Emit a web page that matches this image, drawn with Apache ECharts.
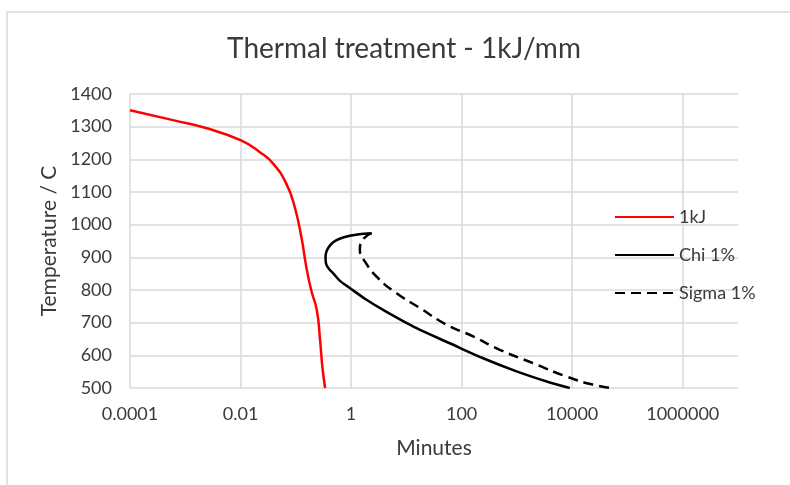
<!DOCTYPE html>
<html>
<head>
<meta charset="utf-8">
<script src="https://cdn.jsdelivr.net/npm/echarts@6/dist/echarts.min.js"></script>
<style>
html,body{margin:0;padding:0;background:#fff;}
#chart{width:790px;height:485px;}
</style>
</head>
<body>
<div id="chart"></div>
<script>
// ---- data (minutes, temperature °C) ----
var titleText = 'Thermal treatment - 1kJ/mm';
var xName = 'Minutes';
var yName = 'Temperature / C';
var seriesNames = ['1kJ', 'Chi 1%', 'Sigma 1%'];

var kJ_time = [0.0001, 0.0006, 0.00245, 0.0102, 0.0224, 0.0389, 0.0676, 0.0955, 0.126, 0.155, 0.19, 0.24, 0.275, 0.302, 0.339];
var kJ_temp = [1350, 1320, 1295, 1258, 1222, 1187, 1125, 1054, 962, 870, 799, 738, 646, 565, 500];

var chi_time = [2.35, 1.4, 0.95, 0.62, 0.474, 0.39, 0.35, 0.345, 0.36, 0.41, 0.474, 0.63, 0.95, 1.9, 3.8, 15.3, 61, 245, 984, 3940, 9060];
var chi_temp = [974, 971, 966, 957, 946, 930, 912, 895, 876, 862, 851, 828, 806, 770, 739, 683, 637, 591, 551, 517, 500];

var sigma_time = [2.35, 1.66, 1.44, 1.78, 3.09, 6.65, 17.5, 53, 161, 490, 1960, 7890, 23900, 50000];
var sigma_temp = [974, 956, 923, 887, 836, 790, 745, 694, 658, 617, 576, 535, 510, 500];

var xMin = 0.0001, xMax = 10000000;
var yMin = 500, yMax = 1400, yStep = 100;

function pairs(xs, ys){ return xs.map(function(x,i){ return [x, ys[i]]; }); }

var FONT = 'Lato, "Liberation Sans", sans-serif';
var TXT = '#3a3a3a';
var GRID = '#d9d9d9';

var chart = echarts.init(document.getElementById('chart'), null, {renderer:'canvas'});
chart.setOption({
  animation: false,
  backgroundColor: '#ffffff',
  textStyle: {fontFamily: FONT},
  graphic: [
    {type:'rect', z:-10, shape:{x:7, y:12, width:820, height:520}, style:{fill:'none', stroke:'#d9d9d9', lineWidth:1.5}},
    {type:'text', x:404, y:49, style:{text:titleText, font:'28px ' + FONT, fill:TXT, align:'center', verticalAlign:'middle'}}
  ],
  grid: {left:130, right:52, top:94, bottom:97, containLabel:false},
  legend: {
    orient:'vertical', left:614, top:207, padding:0,
    itemWidth:59, itemHeight:14, itemGap:18,
    itemStyle:{opacity:0},
    textStyle:{fontSize:18, color:TXT, fontFamily:FONT, lineHeight:20},
    data: seriesNames
  },
  xAxis: {
    type:'log', logBase:100, min:xMin, max:xMax, interval:1,
    name:xName, nameLocation:'middle', nameGap:50,
    nameTextStyle:{fontSize:21, color:TXT, fontFamily:FONT},
    axisLine:{show:false}, axisTick:{show:false},
    axisLabel:{fontSize:18, color:TXT, margin:17, showMaxLabel:false, fontFamily:FONT,
      formatter:function(v){ var e=Math.round(Math.log10(v)); return e<0 ? v.toFixed(-e) : String(Math.round(Math.pow(10,e))); }},
    splitLine:{show:true, showMaxLine:false, lineStyle:{color:GRID, width:1.5}}
  },
  yAxis: {
    type:'value', min:yMin, max:yMax, interval:yStep,
    name:yName, nameLocation:'middle', nameGap:57,
    nameTextStyle:{fontSize:21, color:TXT, fontFamily:FONT},
    axisLine:{show:false}, axisTick:{show:false},
    axisLabel:{fontSize:18, color:TXT, margin:18, fontFamily:FONT, formatter:function(v){ return String(v); }},
    splitLine:{show:true, lineStyle:{color:GRID, width:1.5}}
  },
  series: [
    {name:seriesNames[0], type:'line', data:pairs(kJ_time, kJ_temp), smooth:0.5, symbol:'none',
     lineStyle:{color:'#ff0000', width:2.5}, itemStyle:{color:'#ff0000'}},
    {name:seriesNames[1], type:'line', data:pairs(chi_time, chi_temp), smooth:0.3, symbol:'none',
     lineStyle:{color:'#000000', width:2.5}, itemStyle:{color:'#000000'}},
    {name:seriesNames[2], type:'line', data:pairs(sigma_time, sigma_temp), smooth:0.5, symbol:'none',
     lineStyle:{color:'#000000', width:2.5, type:[10,6]}, itemStyle:{color:'#000000'}}
  ]
});
</script>
</body>
</html>
